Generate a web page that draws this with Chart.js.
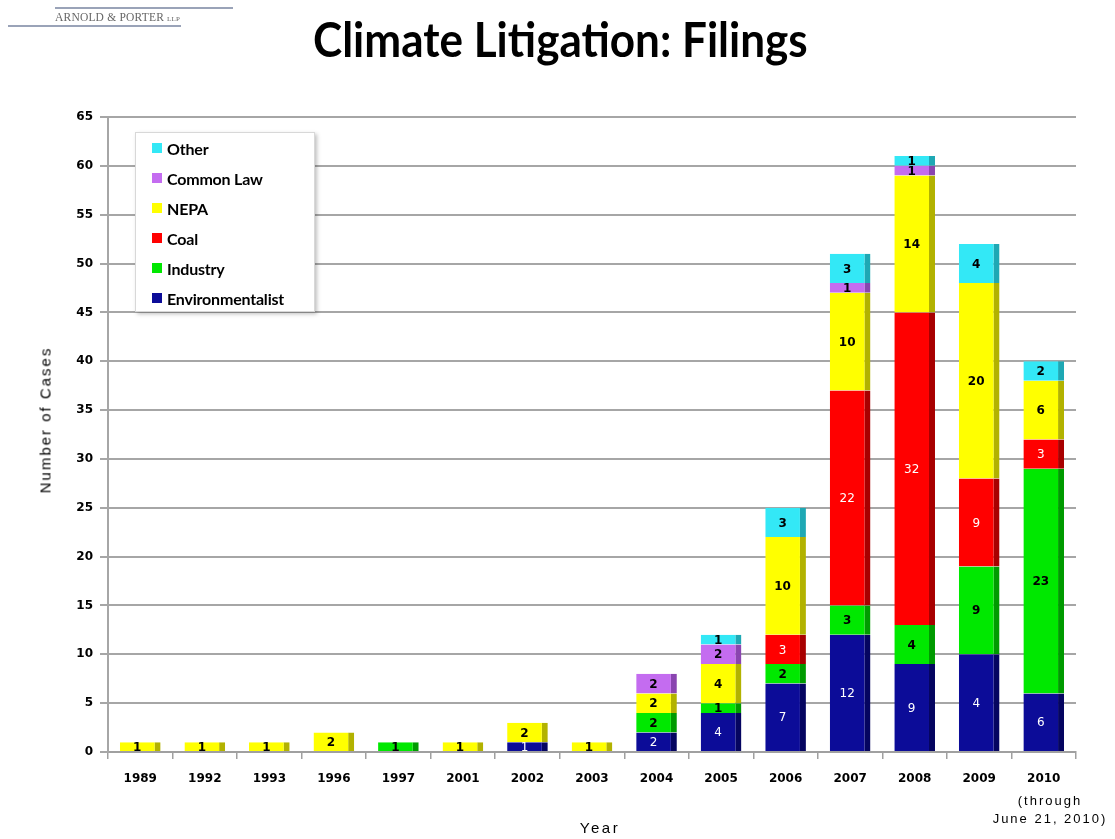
<!DOCTYPE html>
<html>
<head>
<meta charset="utf-8">
<script src="https://cdn.jsdelivr.net/npm/chart.js@4.4.1/dist/chart.umd.min.js"></script>
<style>
    body { margin: 0; background: #fff; }
    #wrap { position: relative; width: 1115px; height: 839px; overflow: hidden; background: #fff; }
    #chartCanvas { position: absolute; left: 0; top: 0; }
    .logo { position: absolute; left: 55px; top: 11px; font-family: "Liberation Serif", serif; font-size: 11.5px; color: #666; letter-spacing: 0.2px; }
    .logo-line1 { position: absolute; left: 55px; top: 7px; width: 178px; height: 2px; background: #9aa3b8; }
    .logo-line2 { position: absolute; left: 8px; top: 25px; width: 173px; height: 2px; background: #9aa3b8; }
    #title { position: absolute; top: 11px; left: 313px; font-family: Lato, sans-serif; font-weight: bold; font-size: 47px; color: #000; white-space: nowrap; transform-origin: 0 0; }
    .ytitle { position: absolute; left: 45px; top: 420px; transform: translate(-50%, -50%) rotate(-90deg); font-family: "Liberation Sans", sans-serif; font-size: 15px; letter-spacing: 2px; white-space: nowrap; }
    .xtitle { position: absolute; left: 600px; top: 819px; transform: translateX(-50%); font-family: "Liberation Sans", sans-serif; font-size: 15px; letter-spacing: 2.5px; }
    .note { position: absolute; left: 1050px; top: 792px; transform: translateX(-50%); font-family: "Liberation Sans", sans-serif; font-size: 13px; letter-spacing: 2px; line-height: 18px; text-align: center; white-space: nowrap; }
    #legend { position: absolute; left: 135px; top: 132px; width: 180px; height: 180px; box-sizing: border-box; background: #fff; border: 1px solid #d8d8d8; box-shadow: 2px 2px 4px rgba(0,0,0,0.25); padding-top: 0; }
    .item { height: 30px; display: flex; align-items: center; font-family: Lato, sans-serif; font-weight: bold; font-size: 16px; color: #000; letter-spacing: -0.2px; }
    .item span.box { display: inline-block; width: 10px; height: 10px; margin-left: 16px; margin-right: 5px; }
</style>
</head>
<body>
<div id="wrap">
    <canvas id="chartCanvas" width="1115" height="839"></canvas>
    <div class="logo-line1"></div>
    <div class="logo">ARNOLD &amp; PORTER <span style="font-size:7px">LLP</span></div>
    <div class="logo-line2"></div>
    <div id="title">Climate Litigation: Filings</div>
    <div class="ytitle">Number of Cases</div>
    <div class="xtitle">Year</div>
    <div class="note">(through<br>June 21, 2010)</div>
    <div id="legend"></div>
</div>
<script>
// Categories and series (bottom to top of each stack)
const years = ["1989", "1992", "1993", "1996", "1997", "2001", "2002", "2003", "2004", "2005", "2006", "2007", "2008", "2009", "2010"];
const environmentalist = [0, 0, 0, 0, 0, 0, 1, 0, 2, 4, 7, 12, 9, 10, 6];
const industry = [0, 0, 0, 0, 1, 0, 0, 0, 2, 1, 2, 3, 4, 9, 23];
const coal = [0, 0, 0, 0, 0, 0, 0, 0, 0, 0, 3, 22, 32, 9, 3];
const nepa = [1, 1, 1, 2, 0, 1, 2, 1, 2, 4, 10, 10, 14, 20, 6];
const commonLaw = [0, 0, 0, 0, 0, 0, 0, 0, 2, 2, 0, 1, 1, 0, 0];
const other = [0, 0, 0, 0, 0, 0, 0, 0, 0, 1, 3, 3, 1, 4, 2];
// The slide prints "4" on the 2009 environmentalist segment
const environmentalistShown = [0, 0, 0, 0, 0, 0, 1, 0, 2, 4, 7, 12, 9, 4, 6];
const yTicks = [0, 5, 10, 15, 20, 25, 30, 35, 40, 45, 50, 55, 60, 65];

const SIDE = 6;

function series(label, data, color, side, textColor, bold, shown) {
    return {
        label: label,
        data: data,
        backgroundColor: color,
        borderColor: side,
        borderWidth: { top: 0, left: 0, bottom: 0, right: SIDE },
        borderSkipped: false,
        textColor: textColor,
        textBold: bold,
        shown: shown || data
    };
}

const datasets = [
    series("Environmentalist", environmentalist, "#0c0c98", "#050560", "#ffffff", false, environmentalistShown),
    series("Industry", industry, "#00e800", "#009a00", "#000000", true),
    series("Coal", coal, "#ff0000", "#a80000", "#ffffff", false),
    series("NEPA", nepa, "#ffff00", "#b2b200", "#000000", true),
    series("Common Law", commonLaw, "#c46cf0", "#8a45b0", "#000000", true),
    series("Other", other, "#33e8f6", "#1ea8b4", "#000000", true)
];

/**
 * @brief Writes the value of each segment in its middle.
 */
const segmentLabels = {
    id: "segmentLabels",
    afterDatasetsDraw(chart) {
        const ctx = chart.ctx;
        ctx.save();
        ctx.textAlign = "center";
        ctx.textBaseline = "middle";
        chart.data.datasets.forEach((ds, i) => {
            const meta = chart.getDatasetMeta(i);
            meta.data.forEach((bar, j) => {
                if (!ds.data[j]) return;
                ctx.font = (ds.textBold ? "bold 12px" : "12px") + " 'DejaVu Sans'";
                ctx.fillStyle = ds.textColor;
                const x = bar.x - SIDE / 2;
                const y = (bar.y + bar.base) / 2 + 1;
                ctx.fillText(String(ds.shown[j]), x, y);
            });
        });
        ctx.restore();
    }
};

const ctx = document.getElementById("chartCanvas").getContext("2d");
const chart = new Chart(ctx, {
    type: "bar",
    data: { labels: years, datasets: datasets },
    plugins: [segmentLabels],
    options: {
        animation: false,
        responsive: false,
        layout: { padding: { top: 117, right: 39, bottom: 0, left: 0 } },
        plugins: {
            legend: { display: false },
            tooltip: { enabled: false }
        },
        datasets: {
            bar: { categoryPercentage: 1.0, barPercentage: 0.63 }
        },
        scales: {
            x: {
                stacked: true,
                afterFit: scale => { scale.height = 87; },
                grid: {
                    offset: true,
                    drawOnChartArea: false,
                    tickLength: 7,
                    color: "#a0a0a0",
                    lineWidth: 1.5
                },
                border: { color: "#a0a0a0", width: 2 },
                ticks: {
                    padding: 13,
                    color: "#000",
                    font: { family: "DejaVu Sans", weight: "bold", size: 12 }
                }
            },
            y: {
                stacked: true,
                min: 0,
                max: 65,
                afterFit: scale => { scale.width = 108; },
                afterBuildTicks: scale => { scale.ticks = yTicks.map(v => ({ value: v })); },
                grid: {
                    color: "#a6a6a6",
                    lineWidth: 2,
                    tickLength: 8
                },
                border: { color: "#a6a6a6", width: 2 },
                ticks: {
                    padding: 7,
                    color: "#000",
                    font: { family: "DejaVu Sans", weight: "bold", size: 12 }
                }
            }
        }
    }
});

// Legend, top series first
const legend = document.getElementById("legend");
chart.data.datasets.slice().reverse().forEach(ds => {
    const item = document.createElement("div");
    item.className = "item";
    const box = document.createElement("span");
    box.className = "box";
    box.style.background = ds.backgroundColor;
    item.appendChild(box);
    item.appendChild(document.createTextNode(ds.label));
    legend.appendChild(item);
});

// Fit title to the slide's width
const title = document.getElementById("title");
title.style.transform = "scaleX(" + (495 / title.offsetWidth) + ")";
</script>
</body>
</html>
